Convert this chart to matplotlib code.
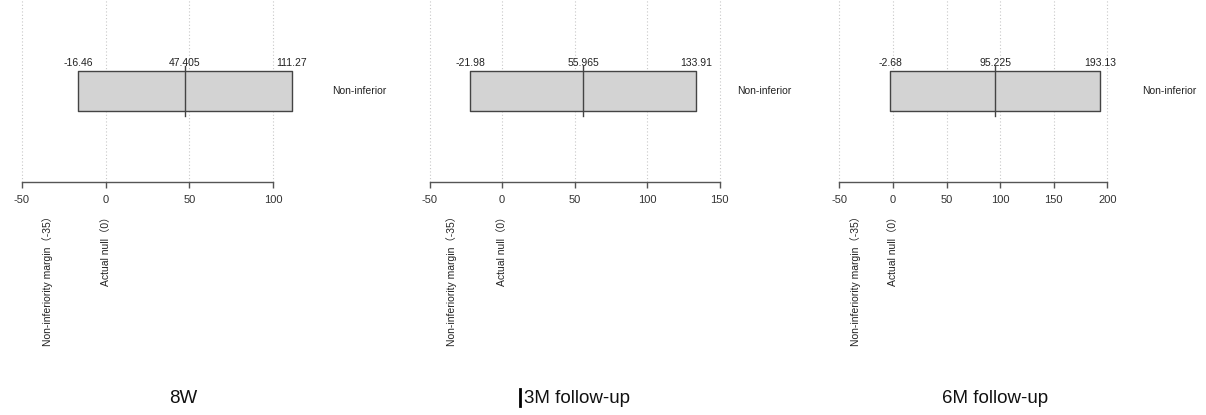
import matplotlib
matplotlib.use("Agg")
import matplotlib.pyplot as plt
from matplotlib.lines import Line2D

plt.rcParams['font.family'] = ['Liberation Sans', 'Noto Sans CJK SC', 'DejaVu Sans']

# ---- data ----
panels = ["8W", "3M follow-up", "6M follow-up"]
lower = [-16.46, -21.98, -2.68]
mean = [47.405, 55.965, 95.225]
upper = [111.27, 133.91, 193.13]
lower_labels = ["-16.46", "-21.98", "-2.68"]
mean_labels = ["47.405", "55.965", "95.225"]
upper_labels = ["111.27", "133.91", "193.13"]
verdicts = ["Non-inferior", "Non-inferior", "Non-inferior"]
ticks = [[-50, 0, 50, 100], [-50, 0, 50, 100, 150], [-50, 0, 50, 100, 150, 200]]
margin = -35
null = 0
margin_label = "Non-inferiority margin（-35）"
null_label = "Actual null（0）"

# ---- layout (pixels in a 1206x415 canvas) ----
W, H = 1206, 415
ax_left_px = [22, 429.5, 839.4]
ax_right_px = [273, 719.5, 1107.4]
axis_y_px = 182.5
verdict_x = [151.7, 181.0, 258.0]
title_x_px = [183, 577, 995]

fig = plt.figure(figsize=(W / 100, H / 100), dpi=100)

for i in range(3):
    l = ax_left_px[i] / W
    w = (ax_right_px[i] - ax_left_px[i]) / W
    b = (H - axis_y_px) / H
    h = axis_y_px / H
    ax = fig.add_axes([l, b, w, h])
    ax.set_xlim(ticks[i][0], ticks[i][-1])
    ax.set_ylim(0, 2)
    for s in ["top", "right", "left"]:
        ax.spines[s].set_visible(False)
    ax.spines["bottom"].set_color("#555555")
    ax.spines["bottom"].set_linewidth(1.0)
    ax.set_yticks([])
    ax.set_xticks(ticks[i])
    ax.set_xticklabels([str(t) for t in ticks[i]])
    ax.tick_params(axis="x", direction="out", length=4, width=1.0, color="#555555",
                   labelsize=8, labelcolor="#333333", pad=5)
    # dotted grid
    for t in ticks[i]:
        ax.plot([t, t], [0, 2], linestyle=(0, (1, 2)), color="#c8c8c8", lw=0.8, zorder=0,
                clip_on=False)
    # box
    y0, hh = 1.0, 0.22
    ax.fill_between([lower[i], upper[i]], y0 - hh, y0 + hh, facecolor="#d3d3d3",
                    edgecolor="#444444", linewidth=1.0, zorder=2, clip_on=False)
    ax.plot([mean[i], mean[i]], [y0 - 0.275, y0 + 0.275], color="#444444", lw=1.0, zorder=3,
            clip_on=False)
    # value labels
    ty = 1.31
    for xv, s in zip([lower[i], mean[i], upper[i]],
                     [lower_labels[i], mean_labels[i], upper_labels[i]]):
        ax.text(xv, ty, s, ha="center", va="center", fontsize=7.5, color="#222222", zorder=4,
                clip_on=False)
    ax.text(verdict_x[i], 1.0, verdicts[i], ha="center", va="center", fontsize=7.5,
            color="#222222", clip_on=False)
    # rotated reference labels
    ry = (axis_y_px - 211) / 91.25
    ax.text(margin, ry, margin_label, rotation=90, ha="center", va="top", fontsize=7.5,
            color="#222222", clip_on=False)
    ax.text(null, ry, null_label, rotation=90, ha="center", va="top", fontsize=7.5,
            color="#222222", clip_on=False)
    # panel title
    fig.text(title_x_px[i] / W, (H - 398) / H, panels[i], ha="center", va="center",
             fontsize=13.5, color="#111111")

# cursor bar artifact before "3M follow-up"
fig.add_artist(Line2D([520 / W, 520 / W], [(H - 406) / H, (H - 389) / H],
                      transform=fig.transFigure, color="black", lw=2))

fig.savefig("out.png", dpi=100, facecolor="white")
